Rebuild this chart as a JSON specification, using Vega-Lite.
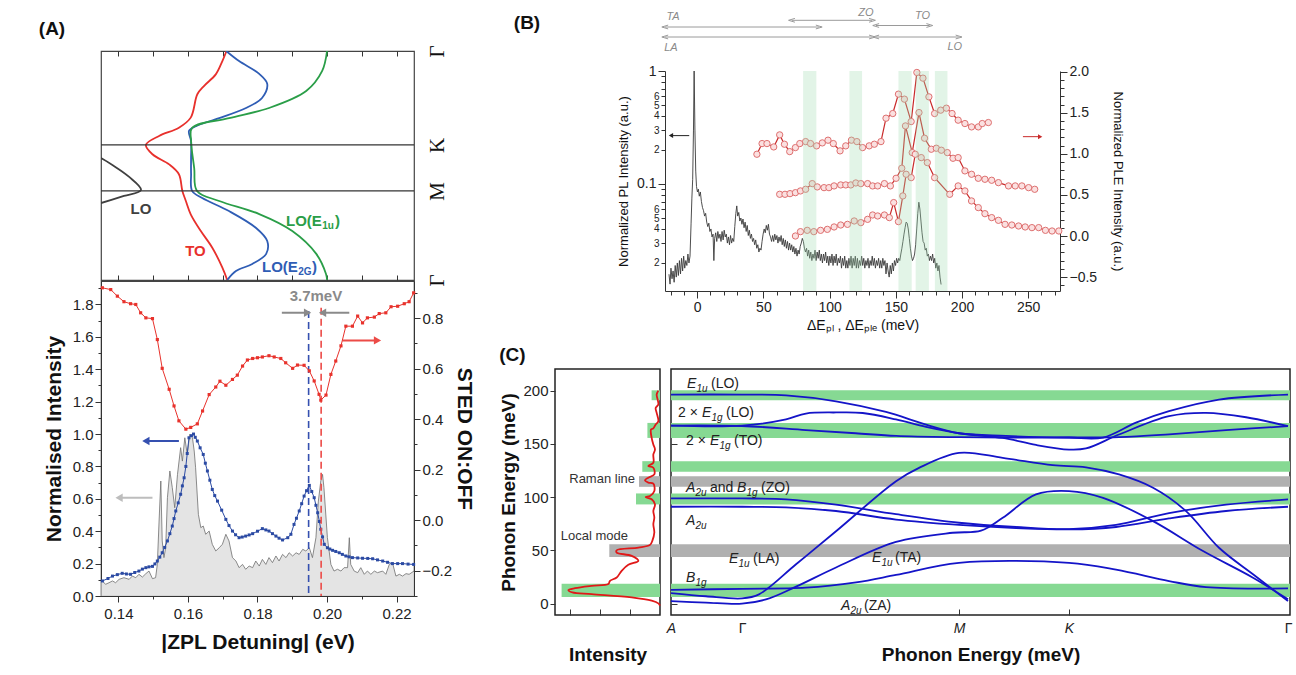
{
"$schema": "https://vega.github.io/schema/vega-lite/v6.json",
"background": "white",
"padding": {"left": 38, "top": 6, "right": 4, "bottom": 4},
"config": {
  "font": "Liberation Sans",
  "view": {"stroke": null},
  "axis": {"grid": false, "labelFont": "Liberation Sans", "titleFont": "Liberation Sans", "domainColor": "#333", "tickColor": "#333", "labelColor": "#222", "titleColor": "#111", "labelFlush": false, "labelOverlap": false},
  "title": {"font": "Liberation Sans", "fontSize": 19, "fontWeight": "bold", "anchor": "start", "color": "#111"}
},
"datasets": {
  "aTop": [
    {"c":"TO","x":0.1711,"y":1.0},{"c":"TO","x":0.1699,"y":0.956},{"c":"TO","x":0.1680,"y":0.898},{"c":"TO","x":0.1646,"y":0.847},{"c":"TO","x":0.1627,"y":0.811},{"c":"TO","x":0.1608,"y":0.709},{"c":"TO","x":0.1574,"y":0.665},{"c":"TO","x":0.1517,"y":0.629},{"c":"TO","x":0.1479,"y":0.590},{"c":"TO","x":0.1498,"y":0.549},{"c":"TO","x":0.1546,"y":0.505},{"c":"TO","x":0.1574,"y":0.462},{"c":"TO","x":0.1584,"y":0.389},{"c":"TO","x":0.1594,"y":0.345},{"c":"TO","x":0.1608,"y":0.287},{"c":"TO","x":0.1637,"y":0.214},{"c":"TO","x":0.1670,"y":0.141},{"c":"TO","x":0.1699,"y":0.054},{"c":"TO","x":0.1713,"y":0.0},
    {"c":"E2G","x":0.1710,"y":1.0},{"c":"E2G","x":0.1747,"y":0.956},{"c":"E2G","x":0.1805,"y":0.900},{"c":"E2G","x":0.1828,"y":0.856},{"c":"E2G","x":0.1813,"y":0.795},{"c":"E2G","x":0.1767,"y":0.751},{"c":"E2G","x":0.1690,"y":0.707},{"c":"E2G","x":0.1623,"y":0.672},{"c":"E2G","x":0.1603,"y":0.651},{"c":"E2G","x":0.1609,"y":0.607},{"c":"E2G","x":0.1609,"y":0.533},{"c":"E2G","x":0.1609,"y":0.463},{"c":"E2G","x":0.1612,"y":0.389},{"c":"E2G","x":0.1641,"y":0.358},{"c":"E2G","x":0.1718,"y":0.301},{"c":"E2G","x":0.1796,"y":0.227},{"c":"E2G","x":0.1828,"y":0.170},{"c":"E2G","x":0.1825,"y":0.114},{"c":"E2G","x":0.1785,"y":0.070},{"c":"E2G","x":0.1738,"y":0.039},{"c":"E2G","x":0.1713,"y":0.0},
    {"c":"E1u","x":0.2000,"y":1.0},{"c":"E1u","x":0.1986,"y":0.913},{"c":"E1u","x":0.1940,"y":0.825},{"c":"E1u","x":0.1833,"y":0.751},{"c":"E1u","x":0.1718,"y":0.707},{"c":"E1u","x":0.1612,"y":0.664},{"c":"E1u","x":0.1609,"y":0.607},{"c":"E1u","x":0.1618,"y":0.489},{"c":"E1u","x":0.1626,"y":0.389},{"c":"E1u","x":0.1690,"y":0.345},{"c":"E1u","x":0.1805,"y":0.288},{"c":"E1u","x":0.1900,"y":0.214},{"c":"E1u","x":0.1969,"y":0.114},{"c":"E1u","x":0.1997,"y":0.026},{"c":"E1u","x":0.2000,"y":0.0},
    {"c":"LOg","x":0.1330,"y":0.545},{"c":"LOg","x":0.1350,"y":0.533},{"c":"LOg","x":0.1387,"y":0.498},{"c":"LOg","x":0.1431,"y":0.450},{"c":"LOg","x":0.1465,"y":0.393},{"c":"LOg","x":0.1416,"y":0.367},{"c":"LOg","x":0.1350,"y":0.336},{"c":"LOg","x":0.1330,"y":0.328}
  ],
  "aTopLab": [
    {"t":"LO","x":0.1435,"y":0.31,"c":"LOg"},{"t":"TO","x":0.1592,"y":0.127,"c":"TO"},
    {"t":"LO(E","x":0.1813,"y":0.057,"c":"E2G"},{"t":")","x":0.1957,"y":0.057,"c":"E2G"},
    {"t":"LO(E","x":0.1882,"y":0.258,"c":"E1u"},{"t":")","x":0.2023,"y":0.258,"c":"E1u"}
  ],
  "aTopSub": [
    {"t":"2G","x":0.1917,"y":0.057,"c":"E2G"},{"t":"1u","x":0.1986,"y":0.258,"c":"E1u"}
  ],
  "aSpec": [
    {"x":0.1350,"y":0.09},{"x":0.1354,"y":0.093},{"x":0.1363,"y":0.072},{"x":0.1373,"y":0.082},{"x":0.1383,"y":0.093},{"x":0.1392,"y":0.082},{"x":0.1402,"y":0.103},{"x":0.1416,"y":0.113},{"x":0.1431,"y":0.103},{"x":0.1440,"y":0.123},{"x":0.1450,"y":0.113},{"x":0.1459,"y":0.134},{"x":0.1469,"y":0.117},{"x":0.1479,"y":0.138},{"x":0.1488,"y":0.154},{"x":0.1498,"y":0.107},{"x":0.1507,"y":0.113},{"x":0.1512,"y":0.195},{"x":0.1517,"y":0.463},{"x":0.1522,"y":0.710},{"x":0.1526,"y":0.340},{"x":0.1531,"y":0.237},{"x":0.1536,"y":0.298},{"x":0.1541,"y":0.607},{"x":0.1548,"y":0.772},{"x":0.1555,"y":0.669},{"x":0.1562,"y":0.545},{"x":0.1570,"y":0.751},{"x":0.1579,"y":0.916},{"x":0.1584,"y":0.833},{"x":0.1591,"y":0.977},{"x":0.1598,"y":0.874},{"x":0.1605,"y":0.998},{"x":0.1613,"y":0.977},{"x":0.1618,"y":0.895},{"x":0.1622,"y":0.792},{"x":0.1630,"y":0.504},{"x":0.1637,"y":0.422},{"x":0.1644,"y":0.432},{"x":0.1651,"y":0.381},{"x":0.1661,"y":0.401},{"x":0.1670,"y":0.319},{"x":0.1680,"y":0.278},{"x":0.1690,"y":0.298},{"x":0.1699,"y":0.319},{"x":0.1709,"y":0.381},{"x":0.1718,"y":0.340},{"x":0.1728,"y":0.237},{"x":0.1738,"y":0.216},{"x":0.1747,"y":0.175},{"x":0.1757,"y":0.195},{"x":0.1766,"y":0.165},{"x":0.1776,"y":0.185},{"x":0.1786,"y":0.175},{"x":0.1795,"y":0.216},{"x":0.1805,"y":0.185},{"x":0.1814,"y":0.226},{"x":0.1824,"y":0.195},{"x":0.1833,"y":0.237},{"x":0.1843,"y":0.206},{"x":0.1853,"y":0.247},{"x":0.1862,"y":0.216},{"x":0.1872,"y":0.257},{"x":0.1882,"y":0.237},{"x":0.1891,"y":0.267},{"x":0.1901,"y":0.247},{"x":0.1911,"y":0.267},{"x":0.1920,"y":0.257},{"x":0.1930,"y":0.288},{"x":0.1939,"y":0.278},{"x":0.1949,"y":0.298},{"x":0.1958,"y":0.237},{"x":0.1968,"y":0.360},{"x":0.1975,"y":0.586},{"x":0.1982,"y":0.710},{"x":0.1987,"y":0.751},{"x":0.1991,"y":0.669},{"x":0.2001,"y":0.360},{"x":0.2011,"y":0.195},{"x":0.2020,"y":0.154},{"x":0.2030,"y":0.165},{"x":0.2040,"y":0.154},{"x":0.2049,"y":0.175},{"x":0.2059,"y":0.175},{"x":0.2064,"y":0.360},{"x":0.2068,"y":0.195},{"x":0.2078,"y":0.154},{"x":0.2088,"y":0.144},{"x":0.2097,"y":0.175},{"x":0.2107,"y":0.134},{"x":0.2116,"y":0.154},{"x":0.2126,"y":0.134},{"x":0.2136,"y":0.154},{"x":0.2145,"y":0.144},{"x":0.2160,"y":0.154},{"x":0.2169,"y":0.134},{"x":0.2179,"y":0.195},{"x":0.2188,"y":0.206},{"x":0.2198,"y":0.123},{"x":0.2208,"y":0.134},{"x":0.2217,"y":0.123},{"x":0.2227,"y":0.138},{"x":0.2236,"y":0.134},{"x":0.2250,"y":0.154}
  ],
  "aBlue": [
    {"x":0.1354,"y":0.093},{"x":0.1370,"y":0.108},{"x":0.1383,"y":0.123},{"x":0.1397,"y":0.132},{"x":0.1411,"y":0.140},{"x":0.1423,"y":0.136},{"x":0.1435,"y":0.134},{"x":0.1447,"y":0.145},{"x":0.1459,"y":0.154},{"x":0.1469,"y":0.166},{"x":0.1479,"y":0.175},{"x":0.1488,"y":0.180},{"x":0.1498,"y":0.183},{"x":0.1505,"y":0.198},{"x":0.1512,"y":0.216},{"x":0.1519,"y":0.240},{"x":0.1526,"y":0.267},{"x":0.1533,"y":0.300},{"x":0.1541,"y":0.340},{"x":0.1548,"y":0.385},{"x":0.1555,"y":0.432},{"x":0.1560,"y":0.478},{"x":0.1565,"y":0.525},{"x":0.1572,"y":0.575},{"x":0.1579,"y":0.628},{"x":0.1584,"y":0.68},{"x":0.1589,"y":0.73},{"x":0.1594,"y":0.80},{"x":0.1598,"y":0.88},{"x":0.1603,"y":0.977},{"x":0.1610,"y":0.99},{"x":0.1616,"y":1.0},{"x":0.1621,"y":0.98},{"x":0.1627,"y":0.957},{"x":0.1635,"y":0.915},{"x":0.1644,"y":0.874},{"x":0.1650,"y":0.82},{"x":0.1656,"y":0.772},{"x":0.1663,"y":0.715},{"x":0.1670,"y":0.658},{"x":0.1677,"y":0.62},{"x":0.1685,"y":0.586},{"x":0.1697,"y":0.53},{"x":0.1709,"y":0.473},{"x":0.1718,"y":0.435},{"x":0.1728,"y":0.401},{"x":0.1737,"y":0.378},{"x":0.1747,"y":0.360},{"x":0.1756,"y":0.364},{"x":0.1766,"y":0.370},{"x":0.1776,"y":0.377},{"x":0.1786,"y":0.385},{"x":0.1800,"y":0.40},{"x":0.1814,"y":0.416},{"x":0.1824,"y":0.408},{"x":0.1833,"y":0.401},{"x":0.1843,"y":0.385},{"x":0.1853,"y":0.370},{"x":0.1862,"y":0.357},{"x":0.1872,"y":0.346},{"x":0.1887,"y":0.36},{"x":0.1896,"y":0.381},{"x":0.1905,"y":0.442},{"x":0.1912,"y":0.48},{"x":0.1920,"y":0.525},{"x":0.1927,"y":0.57},{"x":0.1934,"y":0.617},{"x":0.1941,"y":0.65},{"x":0.1949,"y":0.683},{"x":0.1956,"y":0.645},{"x":0.1963,"y":0.607},{"x":0.1968,"y":0.56},{"x":0.1973,"y":0.514},{"x":0.1978,"y":0.46},{"x":0.1982,"y":0.412},{"x":0.1987,"y":0.365},{"x":0.1992,"y":0.319},{"x":0.2001,"y":0.298},{"x":0.2008,"y":0.29},{"x":0.2016,"y":0.282},{"x":0.2025,"y":0.275},{"x":0.2035,"y":0.267},{"x":0.2044,"y":0.257},{"x":0.2054,"y":0.247},{"x":0.2063,"y":0.242},{"x":0.2073,"y":0.237},{"x":0.2088,"y":0.235},{"x":0.2102,"y":0.233},{"x":0.2117,"y":0.232},{"x":0.2131,"y":0.230},{"x":0.2145,"y":0.223},{"x":0.2160,"y":0.216},{"x":0.2174,"y":0.208},{"x":0.2188,"y":0.200},{"x":0.2203,"y":0.200},{"x":0.2217,"y":0.200},{"x":0.2233,"y":0.197},{"x":0.2249,"y":0.195}
  ],
  "aRed": [
    {"x":0.1354,"y":0.920},{"x":0.1378,"y":0.913},{"x":0.1397,"y":0.887},{"x":0.1416,"y":0.865},{"x":0.1435,"y":0.857},{"x":0.1450,"y":0.854},{"x":0.1464,"y":0.821},{"x":0.1479,"y":0.801},{"x":0.1498,"y":0.798},{"x":0.1512,"y":0.715},{"x":0.1526,"y":0.601},{"x":0.1546,"y":0.518},{"x":0.1560,"y":0.452},{"x":0.1574,"y":0.393},{"x":0.1594,"y":0.360},{"x":0.1608,"y":0.367},{"x":0.1627,"y":0.381},{"x":0.1642,"y":0.432},{"x":0.1661,"y":0.497},{"x":0.1680,"y":0.527},{"x":0.1692,"y":0.550},{"x":0.1709,"y":0.534},{"x":0.1728,"y":0.557},{"x":0.1742,"y":0.574},{"x":0.1757,"y":0.610},{"x":0.1771,"y":0.634},{"x":0.1786,"y":0.640},{"x":0.1800,"y":0.643},{"x":0.1814,"y":0.646},{"x":0.1833,"y":0.651},{"x":0.1848,"y":0.646},{"x":0.1867,"y":0.640},{"x":0.1881,"y":0.623},{"x":0.1901,"y":0.601},{"x":0.1915,"y":0.614},{"x":0.1934,"y":0.613},{"x":0.1949,"y":0.591},{"x":0.1963,"y":0.551},{"x":0.1977,"y":0.498},{"x":0.1982,"y":0.475},{"x":0.1997,"y":0.495},{"x":0.2011,"y":0.577},{"x":0.2025,"y":0.630},{"x":0.2040,"y":0.690},{"x":0.2054,"y":0.768},{"x":0.2073,"y":0.768},{"x":0.2088,"y":0.808},{"x":0.2102,"y":0.781},{"x":0.2116,"y":0.801},{"x":0.2136,"y":0.804},{"x":0.2150,"y":0.818},{"x":0.2169,"y":0.821},{"x":0.2184,"y":0.845},{"x":0.2203,"y":0.847},{"x":0.2222,"y":0.857},{"x":0.2236,"y":0.865},{"x":0.2249,"y":0.900}
  ],
  "aDash": [{"x":0.1947,"y":1.76,"c":"PLE"},{"x":0.1983,"y":1.78,"c":"STED"}],
  "aArr": [
    {"x1":0.1870,"x2":0.1944,"y":1.749,"c":"split","d":"r"},
    {"x1":0.2064,"x2":0.1987,"y":1.749,"c":"split","d":"l"},
    {"x1":0.1574,"x2":0.1479,"y":0.957,"c":"PLE","d":"l"},
    {"x1":0.1498,"x2":0.1402,"y":0.607,"c":"PL","d":"l"},
    {"x1":0.2044,"x2":0.2145,"y":1.578,"c":"STED","d":"r"}
  ],
  "bPL": [
    {"x":-21.3,"y":0.0159},{"x":-20.5,"y":0.013},{"x":-19.8,"y":0.018},{"x":-19,"y":0.0145},{"x":-18.2,"y":0.017},{"x":-17.4,"y":0.0135},{"x":-16.6,"y":0.019},{"x":-15.8,"y":0.015},{"x":-15,"y":0.02},{"x":-14.2,"y":0.0155},{"x":-13.4,"y":0.021},{"x":-12.6,"y":0.016},{"x":-11.8,"y":0.022},{"x":-11,"y":0.017},{"x":-10.2,"y":0.023},{"x":-9.4,"y":0.018},{"x":-8.6,"y":0.021},{"x":-7.8,"y":0.019},{"x":-7,"y":0.024},{"x":-6.2,"y":0.02},{"x":-5.4,"y":0.023},{"x":-4.6,"y":0.045},{"x":-4.0,"y":0.075},{"x":-3.4,"y":0.11},{"x":-2.8,"y":0.3},{"x":-2.3,"y":1.0},{"x":-1.7,"y":0.3},{"x":-1.1,"y":0.13},{"x":-0.5,"y":0.095},{"x":0.2,"y":0.085},{"x":0.9,"y":0.09},{"x":1.6,"y":0.078},{"x":2.4,"y":0.085},{"x":3.2,"y":0.07},{"x":4.0,"y":0.062},{"x":4.8,"y":0.058},{"x":5.6,"y":0.052},{"x":6.4,"y":0.055},{"x":7.2,"y":0.046},{"x":8.0,"y":0.042},{"x":8.8,"y":0.045},{"x":9.6,"y":0.038},{"x":10.4,"y":0.04},{"x":11.2,"y":0.034},{"x":12,"y":0.036},{"x":12.6,"y":0.021},{"x":13.2,"y":0.033},{"x":14,"y":0.037},{"x":14.8,"y":0.031},{"x":15.6,"y":0.038},{"x":16.4,"y":0.033},{"x":17.2,"y":0.036},{"x":18,"y":0.031},{"x":18.8,"y":0.038},{"x":19.6,"y":0.032},{"x":20.4,"y":0.039},{"x":21.2,"y":0.034},{"x":22,"y":0.036},{"x":22.8,"y":0.030},{"x":23.6,"y":0.034},{"x":24.4,"y":0.029},{"x":25.2,"y":0.035},{"x":26,"y":0.03},{"x":26.8,"y":0.033},{"x":27.6,"y":0.031},{"x":28.4,"y":0.042},{"x":29.2,"y":0.055},{"x":29.9,"y":0.064},{"x":30.6,"y":0.052},{"x":31.4,"y":0.056},{"x":32.2,"y":0.047},{"x":33,"y":0.05},{"x":33.8,"y":0.044},{"x":34.6,"y":0.049},{"x":35.4,"y":0.041},{"x":36.2,"y":0.046},{"x":37,"y":0.038},{"x":37.8,"y":0.043},{"x":38.6,"y":0.035},{"x":39.4,"y":0.039},{"x":40.2,"y":0.033},{"x":41,"y":0.036},{"x":41.8,"y":0.031},{"x":42.6,"y":0.033},{"x":43.4,"y":0.029},{"x":44.2,"y":0.032},{"x":45,"y":0.027},{"x":45.8,"y":0.029},{"x":46.6,"y":0.025},{"x":47.4,"y":0.027},{"x":48.2,"y":0.026},{"x":49,"y":0.031},{"x":49.8,"y":0.036},{"x":50.6,"y":0.04},{"x":51.4,"y":0.037},{"x":52.2,"y":0.043},{"x":53,"y":0.039},{"x":53.8,"y":0.044},{"x":54.6,"y":0.036},{"x":55.4,"y":0.034},{"x":56.2,"y":0.031},{"x":57,"y":0.035},{"x":57.8,"y":0.031},{"x":58.6,"y":0.036},{"x":59.4,"y":0.032},{"x":60.2,"y":0.035},{"x":61,"y":0.03},{"x":61.8,"y":0.034},{"x":62.6,"y":0.031},{"x":63.4,"y":0.035},{"x":64.2,"y":0.029},{"x":65,"y":0.033},{"x":65.8,"y":0.028},{"x":66.6,"y":0.032},{"x":67.4,"y":0.027},{"x":68.2,"y":0.031},{"x":69,"y":0.026},{"x":69.8,"y":0.03},{"x":70.6,"y":0.026},{"x":71.4,"y":0.029},{"x":72.2,"y":0.025},{"x":73,"y":0.028},{"x":73.8,"y":0.024},{"x":74.6,"y":0.027},{"x":75.4,"y":0.023},{"x":76.2,"y":0.026},{"x":77,"y":0.024},{"x":77.8,"y":0.028},{"x":78.6,"y":0.03},{"x":79.4,"y":0.033},{"x":80.2,"y":0.031},{"x":81,"y":0.027},{"x":81.8,"y":0.025},{"x":82.6,"y":0.027},{"x":83.4,"y":0.023},{"x":84.2,"y":0.026},{"x":85,"y":0.022},{"x":85.8,"y":0.025},{"x":86.6,"y":0.021},{"x":87.4,"y":0.024},{"x":88.2,"y":0.022},{"x":89,"y":0.026},{"x":89.8,"y":0.021},{"x":90.6,"y":0.025},{"x":91.4,"y":0.022},{"x":92.2,"y":0.026},{"x":93,"y":0.021},{"x":93.8,"y":0.024},{"x":94.6,"y":0.02},{"x":95.4,"y":0.024},{"x":96.2,"y":0.021},{"x":97,"y":0.025},{"x":97.8,"y":0.02},{"x":98.6,"y":0.023},{"x":99.4,"y":0.019},{"x":100.2,"y":0.023},{"x":101,"y":0.02},{"x":101.8,"y":0.024},{"x":102.6,"y":0.019},{"x":103.4,"y":0.023},{"x":104.2,"y":0.02},{"x":105,"y":0.024},{"x":105.8,"y":0.019},{"x":106.6,"y":0.022},{"x":107.4,"y":0.02},{"x":108.2,"y":0.023},{"x":109,"y":0.018},{"x":109.8,"y":0.022},{"x":110.6,"y":0.019},{"x":111.4,"y":0.023},{"x":112.2,"y":0.018},{"x":113,"y":0.021},{"x":113.8,"y":0.018},{"x":114.6,"y":0.022},{"x":115.4,"y":0.019},{"x":116.2,"y":0.023},{"x":117,"y":0.018},{"x":117.8,"y":0.022},{"x":118.6,"y":0.019},{"x":119.4,"y":0.023},{"x":120.2,"y":0.018},{"x":121,"y":0.022},{"x":121.8,"y":0.018},{"x":122.6,"y":0.021},{"x":123.4,"y":0.019},{"x":124.2,"y":0.023},{"x":125,"y":0.019},{"x":125.8,"y":0.022},{"x":126.6,"y":0.018},{"x":127.4,"y":0.021},{"x":128.2,"y":0.019},{"x":129,"y":0.022},{"x":129.8,"y":0.018},{"x":130.6,"y":0.021},{"x":131.4,"y":0.019},{"x":132.2,"y":0.023},{"x":133,"y":0.019},{"x":133.8,"y":0.022},{"x":134.6,"y":0.018},{"x":135.4,"y":0.021},{"x":136.2,"y":0.019},{"x":137,"y":0.022},{"x":137.8,"y":0.018},{"x":138.6,"y":0.021},{"x":139.4,"y":0.018},{"x":140.2,"y":0.022},{"x":141,"y":0.019},{"x":141.8,"y":0.021},{"x":142.6,"y":0.016},{"x":143.4,"y":0.02},{"x":144.2,"y":0.017},{"x":145,"y":0.015},{"x":145.8,"y":0.019},{"x":146.6,"y":0.016},{"x":147.4,"y":0.02},{"x":148.2,"y":0.017},{"x":149,"y":0.021},{"x":149.8,"y":0.019},{"x":150.6,"y":0.022},{"x":151.4,"y":0.02},{"x":152.2,"y":0.022},{"x":153,"y":0.021},{"x":153.8,"y":0.024},{"x":154.6,"y":0.027},{"x":155.4,"y":0.031},{"x":156.2,"y":0.036},{"x":157,"y":0.041},{"x":157.8,"y":0.046},{"x":158.6,"y":0.045},{"x":159.4,"y":0.04},{"x":160.2,"y":0.033},{"x":161,"y":0.027},{"x":161.8,"y":0.023},{"x":162.6,"y":0.021},{"x":163.4,"y":0.022},{"x":164.2,"y":0.024},{"x":165,"y":0.029},{"x":165.8,"y":0.04},{"x":166.6,"y":0.055},{"x":167.4,"y":0.069},{"x":168.2,"y":0.06},{"x":169,"y":0.047},{"x":169.8,"y":0.037},{"x":170.6,"y":0.031},{"x":171.4,"y":0.03},{"x":172.2,"y":0.026},{"x":173,"y":0.027},{"x":173.8,"y":0.023},{"x":174.6,"y":0.024},{"x":175.4,"y":0.021},{"x":176.2,"y":0.023},{"x":177,"y":0.021},{"x":177.8,"y":0.024},{"x":178.6,"y":0.02},{"x":179.4,"y":0.022},{"x":180.2,"y":0.018},{"x":181,"y":0.02},{"x":181.8,"y":0.017},{"x":182.6,"y":0.019},{"x":183.4,"y":0.015},{"x":184.2,"y":0.0129}
  ],
  "bPLE": [
    {"s":"a","x":45.1,"y":0.996},{"s":"a","x":49.0,"y":1.126},{"s":"a","x":52.7,"y":1.126},{"s":"a","x":57.8,"y":1.085},{"s":"a","x":62.3,"y":1.232},{"s":"a","x":65.9,"y":1.118},{"s":"a","x":69.9,"y":1.028},{"s":"a","x":74.2,"y":1.077},{"s":"a","x":77.5,"y":1.126},{"s":"a","x":81.9,"y":1.15},{"s":"a","x":85.6,"y":1.126},{"s":"a","x":90.2,"y":1.098},{"s":"a","x":94.5,"y":1.134},{"s":"a","x":98.8,"y":1.167},{"s":"a","x":102.8,"y":1.126},{"s":"a","x":107.9,"y":1.037},{"s":"a","x":112.2,"y":1.098},{"s":"a","x":116.5,"y":1.167},{"s":"a","x":120.6,"y":1.15},{"s":"a","x":124.9,"y":1.077},{"s":"a","x":129.9,"y":1.098},{"s":"a","x":133.8,"y":1.118},{"s":"a","x":138.8,"y":1.15},{"s":"a","x":142.6,"y":1.435},{"s":"a","x":147.7,"y":1.492},{"s":"a","x":152.0,"y":1.728},{"s":"a","x":156.5,"y":1.667},{"s":"a","x":161.6,"y":1.394},{"s":"a","x":165.9,"y":1.992},{"s":"a","x":170.5,"y":1.923},{"s":"a","x":175.0,"y":1.695},{"s":"a","x":179.3,"y":1.492},{"s":"a","x":183.9,"y":1.533},{"s":"a","x":188.2,"y":1.557},{"s":"a","x":192.5,"y":1.492},{"s":"a","x":197.1,"y":1.411},{"s":"a","x":202.2,"y":1.37},{"s":"a","x":207.2,"y":1.329},{"s":"a","x":212.3,"y":1.329},{"s":"a","x":215.3,"y":1.37},{"s":"a","x":219.9,"y":1.382},
    {"s":"b","x":62.3,"y":0.508},{"s":"b","x":66.3,"y":0.508},{"s":"b","x":70.1,"y":0.516},{"s":"b","x":74.2,"y":0.528},{"s":"b","x":78.0,"y":0.549},{"s":"b","x":81.9,"y":0.569},{"s":"b","x":86.9,"y":0.638},{"s":"b","x":90.7,"y":0.598},{"s":"b","x":95.8,"y":0.589},{"s":"b","x":99.5,"y":0.589},{"s":"b","x":103.4,"y":0.61},{"s":"b","x":108.4,"y":0.622},{"s":"b","x":112.2,"y":0.622},{"s":"b","x":116.0,"y":0.622},{"s":"b","x":119.8,"y":0.646},{"s":"b","x":123.6,"y":0.638},{"s":"b","x":128.7,"y":0.638},{"s":"b","x":132.5,"y":0.61},{"s":"b","x":136.3,"y":0.61},{"s":"b","x":141.4,"y":0.638},{"s":"b","x":145.9,"y":0.61},{"s":"b","x":150.2,"y":0.703},{"s":"b","x":154.5,"y":0.825},{"s":"b","x":157.3,"y":1.341},{"s":"b","x":162.4,"y":1.016},{"s":"b","x":167.5,"y":1.504},{"s":"b","x":171.7,"y":1.191},{"s":"b","x":176.8,"y":1.057},{"s":"b","x":180.6,"y":1.069},{"s":"b","x":184.4,"y":1.045},{"s":"b","x":188.9,"y":1.016},{"s":"b","x":193.2,"y":0.947},{"s":"b","x":197.1,"y":0.955},{"s":"b","x":202.2,"y":0.793},{"s":"b","x":207.2,"y":0.752},{"s":"b","x":212.3,"y":0.703},{"s":"b","x":217.3,"y":0.691},{"s":"b","x":222.4,"y":0.679},{"s":"b","x":227.5,"y":0.65},{"s":"b","x":235.1,"y":0.61},{"s":"b","x":240.2,"y":0.61},{"s":"b","x":245.2,"y":0.61},{"s":"b","x":250.3,"y":0.589},{"s":"b","x":254.9,"y":0.569},
    {"s":"c","x":74.2,"y":0.0},{"s":"c","x":78.0,"y":0.053},{"s":"c","x":83.1,"y":0.069},{"s":"c","x":88.1,"y":0.053},{"s":"c","x":93.2,"y":0.069},{"s":"c","x":98.3,"y":0.081},{"s":"c","x":103.4,"y":0.11},{"s":"c","x":108.4,"y":0.134},{"s":"c","x":113.5,"y":0.142},{"s":"c","x":118.6,"y":0.183},{"s":"c","x":123.6,"y":0.163},{"s":"c","x":128.7,"y":0.203},{"s":"c","x":132.5,"y":0.256},{"s":"c","x":136.3,"y":0.244},{"s":"c","x":141.4,"y":0.256},{"s":"c","x":145.1,"y":0.224},{"s":"c","x":148.4,"y":0.407},{"s":"c","x":152.0,"y":0.175},{"s":"c","x":155.3,"y":0.488},{"s":"c","x":157.8,"y":0.752},{"s":"c","x":161.6,"y":0.711},{"s":"c","x":164.7,"y":0.996},{"s":"c","x":169.2,"y":0.955},{"s":"c","x":173.8,"y":0.894},{"s":"c","x":179.3,"y":0.711},{"s":"c","x":190.7,"y":0.508},{"s":"c","x":197.1,"y":0.61},{"s":"c","x":202.2,"y":0.549},{"s":"c","x":207.2,"y":0.427},{"s":"c","x":212.3,"y":0.346},{"s":"c","x":217.3,"y":0.272},{"s":"c","x":222.4,"y":0.224},{"s":"c","x":227.5,"y":0.191},{"s":"c","x":232.5,"y":0.142},{"s":"c","x":237.6,"y":0.134},{"s":"c","x":242.7,"y":0.122},{"s":"c","x":247.7,"y":0.11},{"s":"c","x":252.8,"y":0.102},{"s":"c","x":257.9,"y":0.102},{"s":"c","x":263.0,"y":0.069},{"s":"c","x":268.0,"y":0.061},{"s":"c","x":273.1,"y":0.061}
  ],
  "bBands": [{"x1":80,"x2":90},{"x1":115,"x2":124.5},{"x1":152,"x2":162},{"x1":165,"x2":175},{"x1":179.5,"x2":189}],
  "bRanges": [
    {"m":"TA","x1":-24.3,"x2":92,"row":26},{"m":"ZO","x1":71.4,"x2":132.2,"row":19.3},{"m":"TO","x1":135,"x2":175.5,"row":24.5},{"m":"LA","x1":-24.3,"x2":132.2,"row":36},{"m":"LO","x1":135,"x2":197.6,"row":36}
  ],
  "bRangeLab": [
    {"t":"TA","x":-18.2,"row":16},{"t":"ZO","x":127.4,"row":11.7},{"t":"TO","x":170.2,"row":15},{"t":"LA","x":-19.8,"row":47},{"t":"LO","x":194.5,"row":46}
  ],
  "cBands": [
    {"lo":191,"hi":200.3,"s":0.28,"kind":"IR"},{"lo":155.6,"hi":169.7,"s":0.42,"kind":"IR"},{"lo":123.8,"hi":133.8,"s":0.59,"kind":"IR"},{"lo":109.7,"hi":119.7,"s":0.70,"kind":"other"},{"lo":93.2,"hi":103.5,"s":0.80,"kind":"IR"},{"lo":43.8,"hi":55.7,"s":1.69,"kind":"other"},{"lo":6.3,"hi":18.8,"s":3.28,"kind":"IR"}
  ],
  "cInt": [
    {"I":0.056,"E":200.0},{"I":0.111,"E":196.3},{"I":0.078,"E":191.6},{"I":0.056,"E":186.9},{"I":0.144,"E":183.8},{"I":0.111,"E":179.1},{"I":0.056,"E":171.3},{"I":0.144,"E":168.2},{"I":0.222,"E":164.5},{"I":0.300,"E":163.5},{"I":0.278,"E":155.7},{"I":0.222,"E":149.5},{"I":0.167,"E":144.8},{"I":0.222,"E":140.1},{"I":0.222,"E":132.3},{"I":0.389,"E":129.2},{"I":0.222,"E":127.6},{"I":0.189,"E":121.4},{"I":0.389,"E":118.3},{"I":0.5,"E":115.8},{"I":0.389,"E":113.6},{"I":0.222,"E":112.7},{"I":0.189,"E":105.8},{"I":0.333,"E":101.1},{"I":0.478,"E":100.2},{"I":0.278,"E":98.0},{"I":0.167,"E":93.3},{"I":0.222,"E":87.1},{"I":0.189,"E":80.8},{"I":0.222,"E":74.6},{"I":0.189,"E":66.8},{"I":0.256,"E":59.0},{"I":0.333,"E":55.2},{"I":0.722,"E":52.7},{"I":1.444,"E":50.2},{"I":1.444,"E":48.0},{"I":0.944,"E":44.9},{"I":0.722,"E":40.2},{"I":1.056,"E":36.5},{"I":1.278,"E":30.9},{"I":1.444,"E":24.6},{"I":1.667,"E":21.5},{"I":1.722,"E":18.4},{"I":2.278,"E":16.8},{"I":2.833,"E":14.6},{"I":3.056,"E":12.8},{"I":2.922,"E":10.6},{"I":2.278,"E":9.0},{"I":0.944,"E":5.9},{"I":0.278,"E":2.8},{"I":0.056,"E":0.3},{"I":0.0,"E":-1.9}
  ],
  "cDisp": [
    {"b":"1","k":0,"E":196.3},{"b":"1","k":1.0,"E":196.3},{"b":"1","k":1.62,"E":195.5},{"b":"1","k":2.324,"E":190},{"b":"1","k":3.028,"E":180},{"b":"1","k":3.592,"E":168},{"b":"1","k":4.056,"E":160},{"b":"1","k":4.718,"E":157.5},{"b":"1","k":5.606,"E":156},{"b":"1","k":6.085,"E":156},{"b":"1","k":6.549,"E":170},{"b":"1","k":7.014,"E":180.7},{"b":"1","k":7.718,"E":191.6},{"b":"1","k":8.69,"E":196.3},
    {"b":"2","k":0,"E":167.2},{"b":"2","k":1.0,"E":167.2},{"b":"2","k":1.62,"E":173},{"b":"2","k":1.9,"E":178.5},{"b":"2","k":2.324,"E":179.5},{"b":"2","k":2.7,"E":179},{"b":"2","k":3.169,"E":173},{"b":"2","k":3.592,"E":166},{"b":"2","k":4.056,"E":160},{"b":"2","k":4.672,"E":155.6},{"b":"2","k":5.141,"E":149},{"b":"2","k":5.606,"E":144.7},{"b":"2","k":5.845,"E":145.7},{"b":"2","k":6.31,"E":158.8},{"b":"2","k":7.014,"E":176},{"b":"2","k":7.535,"E":179.1},{"b":"2","k":8.099,"E":175},{"b":"2","k":8.69,"E":166.6},
    {"b":"3","k":0,"E":167.2},{"b":"3","k":1.0,"E":166.8},{"b":"3","k":1.9,"E":163},{"b":"3","k":2.6,"E":160},{"b":"3","k":3.17,"E":157.5},{"b":"3","k":4.056,"E":156.3},{"b":"3","k":4.718,"E":156},{"b":"3","k":5.606,"E":156},{"b":"3","k":6.31,"E":156.3},{"b":"3","k":7.014,"E":159},{"b":"3","k":7.817,"E":163},{"b":"3","k":8.69,"E":166.6},
    {"b":"4","k":0,"E":98.8},{"b":"4","k":1.0,"E":98.8},{"b":"4","k":1.62,"E":98},{"b":"4","k":2.324,"E":93},{"b":"4","k":3.169,"E":84},{"b":"4","k":4.056,"E":76},{"b":"4","k":4.859,"E":72},{"b":"4","k":5.606,"E":70},{"b":"4","k":6.268,"E":74},{"b":"4","k":7.014,"E":85},{"b":"4","k":7.817,"E":93},{"b":"4","k":8.69,"E":97.9},
    {"b":"5","k":0,"E":91},{"b":"5","k":1.0,"E":91},{"b":"5","k":1.62,"E":90.5},{"b":"5","k":2.324,"E":87},{"b":"5","k":3.169,"E":79},{"b":"5","k":4.056,"E":74},{"b":"5","k":4.859,"E":71},{"b":"5","k":5.606,"E":69.7},{"b":"5","k":6.268,"E":72},{"b":"5","k":7.014,"E":80},{"b":"5","k":7.817,"E":87},{"b":"5","k":8.69,"E":91},
    {"b":"6","k":0,"E":10},{"b":"6","k":0.493,"E":7},{"b":"6","k":1.0,"E":5},{"b":"6","k":1.239,"E":8.8},{"b":"6","k":1.761,"E":37},{"b":"6","k":2.324,"E":68},{"b":"6","k":3.169,"E":115},{"b":"6","k":3.493,"E":127.5},{"b":"6","k":4.056,"E":141.6},{"b":"6","k":4.672,"E":136.9},{"b":"6","k":5.376,"E":130},{"b":"6","k":5.845,"E":128},{"b":"6","k":6.31,"E":121.3},{"b":"6","k":6.789,"E":108.8},{"b":"6","k":7.254,"E":86.9},{"b":"6","k":7.718,"E":52.5},{"b":"6","k":8.197,"E":27.6},{"b":"6","k":8.69,"E":2.5},
    {"b":"7","k":0,"E":13},{"b":"7","k":1.0,"E":14},{"b":"7","k":1.9,"E":15},{"b":"7","k":2.606,"E":20},{"b":"7","k":3.169,"E":27},{"b":"7","k":4.056,"E":38.4},{"b":"7","k":5.606,"E":38.4},{"b":"7","k":6.268,"E":32},{"b":"7","k":7.014,"E":21.3},{"b":"7","k":7.535,"E":15.5},{"b":"7","k":8.69,"E":14.4},
    {"b":"8","k":0,"E":2.5},{"b":"8","k":0.493,"E":1},{"b":"8","k":1.0,"E":0},{"b":"8","k":1.338,"E":4},{"b":"8","k":1.761,"E":16},{"b":"8","k":2.324,"E":34},{"b":"8","k":3.169,"E":58},{"b":"8","k":3.968,"E":66.6},{"b":"8","k":4.366,"E":68.5},{"b":"8","k":4.672,"E":80.6},{"b":"8","k":5.141,"E":102.6},{"b":"8","k":5.606,"E":105.7},{"b":"8","k":6.085,"E":99.4},{"b":"8","k":6.789,"E":77.5},{"b":"8","k":7.493,"E":49.4},{"b":"8","k":8.197,"E":24.4},{"b":"8","k":8.69,"E":4.1}
  ],
  "cSym": [
    {"t":"E","k":0.225,"E":206.2},{"t":"E","k":0.437,"E":179.1},{"t":"E","k":0.549,"E":152.5},{"t":"A","k":0.211,"E":108.8},{"t":"B","k":0.930,"E":108.8},{"t":"A","k":0.211,"E":77.5},{"t":"E","k":0.817,"E":41.6},{"t":"E","k":2.831,"E":43.1},{"t":"B","k":0.211,"E":24.4},{"t":"A","k":2.394,"E":-2.2}
  ],
  "cSub": [
    {"t":"1u","k":0.359,"E":206.2},{"t":"1g","k":0.570,"E":179.1},{"t":"1g","k":0.683,"E":152.5},{"t":"2u","k":0.345,"E":108.8},{"t":"1g","k":1.063,"E":108.8},{"t":"2u","k":0.345,"E":77.5},{"t":"1u","k":0.951,"E":41.6},{"t":"1u","k":2.965,"E":43.1},{"t":"1g","k":0.345,"E":24.4},{"t":"2u","k":2.528,"E":-2.2}
  ],
  "cPlain": [
    {"t":"(LO)","k":0.563,"E":206.2},{"t":"2 ×","k":0.099,"E":179.1},{"t":"(LO)","k":0.775,"E":179.1},{"t":"2 ×","k":0.211,"E":152.5},{"t":"(TO)","k":0.887,"E":152.5},{"t":"and","k":0.549,"E":108.8},{"t":"(ZO)","k":1.268,"E":108.8},{"t":"(LA)","k":1.155,"E":41.6},{"t":"(TA)","k":3.155,"E":43.1},{"t":"(ZA)","k":2.718,"E":-2.2}
  ],
  "cNotes": [{"t":"Raman line","I":0.833,"E":116.6},{"t":"Local mode","I":1.067,"E":63.5}]
},
"resolve": {"scale": {"color": "independent", "shape": "independent"}},
"concat": [
  {
    "bounds": "flush",
    "spacing": 1,
    "resolve": {"scale": {"color": "independent", "shape": "independent"}},
    "vconcat": [
      {
        "width": 20, "height": 43,
        "data": {"values": [{}]},
        "mark": {"type": "text", "text": "(A)", "fontSize": 19, "fontWeight": "bold", "color": "#111", "align": "center", "baseline": "middle", "dx": -59}
      },
      {
        "width": 313, "height": 229,
        "view": {"stroke": "#444", "strokeWidth": 1.2},
        "resolve": {"axis": {"x": "independent"}},
        "layer": [
          {
            "data": {"name": "aTop"},
            "mark": {"type": "line", "strokeWidth": 1.8, "interpolate": "catmull-rom", "clip": true},
            "encoding": {
              "x": {"field": "x", "type": "quantitative", "scale": {"domain": [0.135, 0.225], "nice": false, "zero": false},
                    "axis": {"orient": "top", "values": [0.14,0.15,0.16,0.17,0.18,0.19,0.2,0.21,0.22], "tickCount": 100, "labels": false, "tickSize": -5, "domain": false, "title": null}},
              "y": {"field": "y", "type": "quantitative", "scale": {"domain": [0, 1], "nice": false, "zero": false},
                    "axis": {"orient": "right", "values": [0, 0.389, 0.59, 1], "labelExpr": "datum.value == 0 || datum.value == 1 ? 'Γ' : (datum.value < 0.5 ? 'M' : 'K')", "labelAngle": -90, "labelFont": "Liberation Serif", "labelFontSize": 21, "labelColor": "#111", "tickSize": 0, "domain": false, "labelPadding": 12, "title": null}},
              "color": {"field": "c", "type": "nominal", "scale": {"domain": ["TO","E2G","E1u","LOg"], "range": ["#e8302c","#2f5db5","#2a9e48","#404040"]}, "legend": null},
              "order": {"field": "y", "type": "quantitative"}
            }
          },
          {
            "data": {"values": [{"y": 0.389}, {"y": 0.59}]},
            "mark": {"type": "rule", "color": "#333", "strokeWidth": 1.2},
            "encoding": {"y": {"field": "y", "type": "quantitative"}}
          },
          {
            "data": {"name": "aTopLab"},
            "mark": {"type": "text", "fontSize": 15, "fontWeight": "bold", "align": "left", "baseline": "middle"},
            "encoding": {
              "x": {"field": "x", "type": "quantitative", "axis": {"orient": "bottom", "values": [0.14,0.15,0.16,0.17,0.18,0.19,0.2,0.21,0.22], "tickCount": 100, "labels": false, "tickSize": -5, "domain": false, "title": null}},
              "y": {"field": "y", "type": "quantitative"},
              "color": {"field": "c", "type": "nominal"},
              "text": {"field": "t"}
            }
          },
          {
            "data": {"name": "aTopSub"},
            "mark": {"type": "text", "fontSize": 10, "fontWeight": "bold", "align": "left", "baseline": "middle", "dy": 5},
            "encoding": {
              "x": {"field": "x", "type": "quantitative", "axis": null},
              "y": {"field": "y", "type": "quantitative"},
              "color": {"field": "c", "type": "nominal"},
              "text": {"field": "t"}
            }
          }
        ]
      },
      {
        "width": 313, "height": 315,
        "view": {"stroke": "#444", "strokeWidth": 1.2},
        "resolve": {"scale": {"y": "independent"}},
        "layer": [
          {
            "layer": [
              {
                "data": {"name": "aSpec"},
                "mark": {"type": "area", "color": "#d9d9d9", "line": {"color": "#6e6e6e", "strokeWidth": 0.8}, "clip": true},
                "encoding": {
                  "x": {"field": "x", "type": "quantitative", "scale": {"domain": [0.135, 0.225], "nice": false, "zero": false},
                        "axis": {"values": [0.14,0.15,0.16,0.17,0.18,0.19,0.2,0.21,0.22], "tickCount": 100, "labelExpr": "round(datum.value*100) % 2 == 0 ? format(datum.value, '.2f') : ''", "tickSize": {"condition": {"test": "round(datum.value*100) % 2 == 0", "value": 6}, "value": 3}, "labelFontSize": 15, "title": "|ZPL Detuning|  (eV)", "titleFontSize": 21, "titleFontWeight": "bold", "titlePadding": 10, "labelPadding": 4}},
                  "y": {"field": "y", "type": "quantitative", "scale": {"domain": [0, 1.945], "nice": false, "zero": false},
                        "axis": {"values": [0,0.1,0.2,0.3,0.4,0.5,0.6,0.7,0.8,0.9,1.0,1.1,1.2,1.3,1.4,1.5,1.6,1.7,1.8,1.9], "tickCount": 100, "labelExpr": "round(datum.value*10) % 2 == 0 ? format(datum.value, '.1f') : ''", "tickSize": {"condition": {"test": "round(datum.value*10) % 2 == 0", "value": 6}, "value": 3}, "labelFontSize": 15, "title": "Normalised Intensity", "titleFontSize": 21, "titleFontWeight": "bold", "titlePadding": 8}}
                }
              },
              {
                "data": {"name": "aBlue"},
                "mark": {"type": "line", "color": "#2b4aa3", "strokeWidth": 1, "point": {"shape": "square", "size": 9, "filled": true, "color": "#2b4aa3"}},
                "encoding": {"x": {"field": "x", "type": "quantitative"}, "y": {"field": "y", "type": "quantitative"}}
              },
              {
                "data": {"name": "aDash"},
                "mark": {"type": "rule", "strokeDash": [7, 4], "strokeWidth": 1.6},
                "encoding": {
                  "x": {"field": "x", "type": "quantitative"},
                  "y": {"field": "y", "type": "quantitative"},
                  "y2": {"datum": 0},
                  "color": {"field": "c", "type": "nominal", "scale": {"domain": ["PL","PLE","STED","split"], "range": ["#bdbdbd","#3550b0","#ec4b47","#8a8a8a"]}, "legend": null}
                }
              },
              {
                "data": {"name": "aArr"},
                "mark": {"type": "rule", "strokeWidth": 2},
                "encoding": {
                  "x": {"field": "x1", "type": "quantitative"}, "x2": {"field": "x2"},
                  "y": {"field": "y", "type": "quantitative"},
                  "color": {"field": "c", "type": "nominal"}
                }
              },
              {
                "data": {"name": "aArr"},
                "mark": {"type": "point", "filled": true, "size": 70, "opacity": 1},
                "encoding": {
                  "x": {"field": "x2", "type": "quantitative"},
                  "y": {"field": "y", "type": "quantitative"},
                  "shape": {"field": "d", "type": "nominal", "scale": {"domain": ["l","r"], "range": ["triangle-left","triangle-right"]}, "legend": null},
                  "color": {"field": "c", "type": "nominal"}
                }
              },
              {
                "data": {"values": [{"x": 0.1968, "y": 1.85, "t": "3.7meV"}]},
                "mark": {"type": "text", "fontSize": 15, "fontWeight": "bold", "color": "#8a8a8a"},
                "encoding": {"x": {"field": "x", "type": "quantitative"}, "y": {"field": "y", "type": "quantitative"}, "text": {"field": "t"}}
              }
            ]
          },
          {
            "data": {"name": "aRed"},
            "mark": {"type": "line", "color": "#e8322c", "strokeWidth": 1, "point": {"shape": "square", "size": 10, "filled": true, "color": "#e8322c"}},
            "encoding": {
              "x": {"field": "x", "type": "quantitative"},
              "y": {"field": "y", "type": "quantitative", "scale": {"domain": [-0.301, 0.947], "nice": false, "zero": false},
                    "axis": {"orient": "right", "values": [-0.3,-0.2,-0.1,0,0.1,0.2,0.3,0.4,0.5,0.6,0.7,0.8,0.9], "tickCount": 100, "labelExpr": "round(datum.value*10) % 2 == 0 ? format(datum.value, '.1f') : ''", "tickSize": {"condition": {"test": "round(datum.value*10) % 2 == 0", "value": 6}, "value": 3}, "labelFontSize": 15, "title": "STED ON:OFF", "titleAngle": 90, "titleFontSize": 21, "titleFontWeight": "bold", "titlePadding": 2}}
            }
          }
        ]
      }
    ]
  },
  {
    "spacing": 14,
    "resolve": {"scale": {"color": "independent"}},
    "vconcat": [
      {
        "spacing": 0,
        "hconcat": [
          {
            "width": 62, "height": 32,
            "data": {"values": [{}]},
            "mark": {"type": "text", "text": "(B)", "fontSize": 19, "fontWeight": "bold", "color": "#111", "align": "center", "baseline": "middle", "dx": -59}
          },
          {
            "bounds": "flush",
            "spacing": 12,
            "vconcat": [
              {
                "width": 395, "height": 52,
                "layer": [
                  {
                    "data": {"name": "bRanges"},
                    "mark": {"type": "rule", "color": "#9a9a9a", "strokeWidth": 1},
                    "encoding": {
                      "x": {"field": "x1", "type": "quantitative", "scale": {"domain": [-24.3, 274], "nice": false, "zero": false}, "axis": null},
                      "x2": {"field": "x2"},
                      "y": {"field": "row", "type": "quantitative", "scale": {"domain": [6, 58], "reverse": true, "nice": false, "zero": false}, "axis": null}
                    }
                  },
                  {
                    "data": {"name": "bRanges"},
                    "mark": {"type": "point", "shape": "M 1 -0.6 L -1 0 L 1 0.6", "filled": false, "size": 40, "color": "#9a9a9a", "strokeWidth": 1, "opacity": 1},
                    "encoding": {"x": {"field": "x1", "type": "quantitative"}, "y": {"field": "row", "type": "quantitative"}}
                  },
                  {
                    "data": {"name": "bRanges"},
                    "mark": {"type": "point", "shape": "M -1 -0.6 L 1 0 L -1 0.6", "filled": false, "size": 40, "color": "#9a9a9a", "strokeWidth": 1, "opacity": 1},
                    "encoding": {"x": {"field": "x2", "type": "quantitative"}, "y": {"field": "row", "type": "quantitative"}}
                  },
                  {
                    "data": {"name": "bRangeLab"},
                    "mark": {"type": "text", "fontSize": 11, "fontStyle": "italic", "color": "#8a8a8a"},
                    "encoding": {"x": {"field": "x", "type": "quantitative"}, "y": {"field": "row", "type": "quantitative"}, "text": {"field": "t"}}
                  }
                ]
              },
              {
                "width": 395, "height": 220,
                "resolve": {"scale": {"y": "independent"}},
                "layer": [
                  {
                    "layer": [
                      {
                        "data": {"name": "bPL"},
                        "mark": {"type": "line", "color": "#3a3a3a", "strokeWidth": 0.9},
                        "encoding": {
                          "x": {"field": "x", "type": "quantitative", "scale": {"domain": [-24.3, 274], "nice": false, "zero": false},
                                "axis": {"values": [-20,-10,0,10,20,30,40,50,60,70,80,90,100,110,120,130,140,150,160,170,180,190,200,210,220,230,240,250,260,270], "tickCount": 100, "labelExpr": "datum.value % 50 == 0 ? format(datum.value, 'd') : ''", "tickSize": {"condition": {"test": "datum.value % 50 == 0", "value": 7}, "value": 4}, "labelFontSize": 14, "title": "ΔEₚₗ , ΔEₚₗₑ (meV)", "titleFontSize": 14, "titleFontWeight": "normal", "titlePadding": 4}},
                          "y": {"field": "y", "type": "quantitative", "scale": {"type": "log", "domain": [0.0113, 1], "nice": false},
                                "axis": {"values": [0.02,0.03,0.04,0.05,0.06,0.07,0.08,0.09,0.1,0.2,0.3,0.4,0.5,0.6,0.7,0.8,0.9,1], "tickCount": 100, "labelExpr": "datum.value >= 0.999 ? '1' : (abs(datum.value - 0.1) < 1e-9 ? '0.1' : (datum.value < 0.1 ? (round(datum.value*100) <= 6 ? '' + round(datum.value*100) : '') : (round(datum.value*10) <= 6 ? '' + round(datum.value*10) : '')))", "labelFontSize": {"condition": {"test": "datum.value >= 0.999 || abs(datum.value - 0.1) < 1e-9", "value": 14}, "value": 10}, "tickSize": {"condition": {"test": "datum.value >= 0.999 || abs(datum.value - 0.1) < 1e-9", "value": 7}, "value": 4}, "title": "Normalized PL Intensity (a.u.)", "titleFontSize": 13, "titleFontWeight": "normal", "titlePadding": 6}}
                        }
                      },
                      {
                        "data": {"values": [{"x1": -6, "x2": -19.8, "y": 0.268}]},
                        "mark": {"type": "rule", "color": "#222", "strokeWidth": 1},
                        "encoding": {"x": {"field": "x1", "type": "quantitative"}, "x2": {"field": "x2"}, "y": {"field": "y", "type": "quantitative"}}
                      },
                      {
                        "data": {"values": [{"x2": -19.8, "y": 0.268}]},
                        "mark": {"type": "point", "shape": "triangle-left", "filled": true, "size": 25, "color": "#222", "opacity": 1},
                        "encoding": {"x": {"field": "x2", "type": "quantitative"}, "y": {"field": "y", "type": "quantitative"}}
                      }
                    ]
                  },
                  {
                    "layer": [
                      {
                        "data": {"name": "bPLE"},
                        "mark": {"type": "line", "color": "#c92a2a", "strokeWidth": 1.2, "point": {"filled": false, "fill": "#fbe0e0", "stroke": "#de7070", "size": 40, "strokeWidth": 1}},
                        "encoding": {
                          "x": {"field": "x", "type": "quantitative"},
                          "y": {"field": "y", "type": "quantitative", "scale": {"domain": [-0.67, 2.01], "nice": false, "zero": false},
                                "axis": {"orient": "right", "values": [-0.6,-0.5,-0.4,-0.3,-0.2,-0.1,0,0.1,0.2,0.3,0.4,0.5,0.6,0.7,0.8,0.9,1.0,1.1,1.2,1.3,1.4,1.5,1.6,1.7,1.8,1.9,2.0], "tickCount": 100, "labelExpr": "abs(datum.value*2 - round(datum.value*2)) < 1e-6 ? format(datum.value, '.1f') : ''", "tickSize": {"condition": {"test": "abs(datum.value*2 - round(datum.value*2)) < 1e-6", "value": 7}, "value": 4}, "labelFontSize": 14, "title": "Normalized PLE Intensity (a.u.)", "titleAngle": 90, "titleFontSize": 13, "titleFontWeight": "normal", "titlePadding": 14}},
                          "detail": {"field": "s", "type": "nominal"}
                        }
                      },
                      {
                        "data": {"values": [{"x1": 246, "x2": 259, "y": 1.21}]},
                        "mark": {"type": "rule", "color": "#c92a2a", "strokeWidth": 1},
                        "encoding": {"x": {"field": "x1", "type": "quantitative"}, "x2": {"field": "x2"}, "y": {"field": "y", "type": "quantitative"}}
                      },
                      {
                        "data": {"values": [{"x2": 259, "y": 1.21}]},
                        "mark": {"type": "point", "shape": "triangle-right", "filled": true, "size": 25, "color": "#c92a2a", "opacity": 1},
                        "encoding": {"x": {"field": "x2", "type": "quantitative"}, "y": {"field": "y", "type": "quantitative"}}
                      }
                    ]
                  },
                  {
                    "data": {"name": "bBands"},
                    "mark": {"type": "rect", "color": "#9edbb0", "opacity": 0.3},
                    "encoding": {"x": {"field": "x1", "type": "quantitative"}, "x2": {"field": "x2"}}
                  }
                ]
              }
            ]
          }
        ]
      },
      {
        "title": {"text": "(C)", "frame": "bounds", "offset": 3},
        "spacing": 0,
        "hconcat": [
          {
            "width": 105, "height": 246,
            "view": {"stroke": "#222", "strokeWidth": 1.5},
            "layer": [
              {
                "data": {"name": "cBands"},
                "mark": {"type": "rect"},
                "encoding": {
                  "x": {"field": "s", "type": "quantitative", "scale": {"domain": [0, 3.5], "reverse": true, "nice": false, "zero": false},
                        "axis": {"values": [1, 2, 3], "labels": false, "tickSize": -6, "domain": false, "title": "Intensity", "titleFontSize": 19, "titleFontWeight": "bold", "titlePadding": 30}},
                  "x2": {"datum": 0},
                  "y": {"field": "lo", "type": "quantitative", "scale": {"domain": [-10.6, 220.3], "nice": false, "zero": false},
                        "axis": {"values": [0, 50, 100, 150, 200], "labelFontSize": 15, "domain": false, "title": "Phonon Energy (meV)", "titleFontSize": 19, "titleFontWeight": "bold", "titlePadding": 4}},
                  "y2": {"field": "hi"},
                  "color": {"field": "kind", "type": "nominal", "scale": {"domain": ["IR","other"], "range": ["#86d993","#b0b0b0"]}, "legend": null}
                }
              },
              {
                "data": {"name": "cInt"},
                "mark": {"type": "line", "color": "#e01818", "strokeWidth": 1.8, "interpolate": "catmull-rom"},
                "encoding": {"x": {"field": "I", "type": "quantitative"}, "y": {"field": "E", "type": "quantitative"}, "order": {"field": "E", "type": "quantitative"}}
              },
              {
                "data": {"name": "cNotes"},
                "mark": {"type": "text", "fontSize": 13, "color": "#333", "align": "right", "baseline": "middle"},
                "encoding": {"x": {"field": "I", "type": "quantitative"}, "y": {"field": "E", "type": "quantitative"}, "text": {"field": "t"}}
              }
            ]
          },
          {
            "width": 619, "height": 246,
            "view": {"stroke": "#222", "strokeWidth": 1.5},
            "layer": [
              {
                "data": {"name": "cBands"},
                "mark": {"type": "rect"},
                "encoding": {
                  "y": {"field": "lo", "type": "quantitative", "scale": {"domain": [-10.6, 220.3], "nice": false, "zero": false},
                        "axis": {"values": [0, 50, 100, 150, 200], "labels": false, "tickSize": -6, "domain": false, "title": null}},
                  "y2": {"field": "hi"},
                  "color": {"field": "kind", "type": "nominal", "scale": {"domain": ["IR","other"], "range": ["#86d993","#b0b0b0"]}, "legend": null}
                }
              },
              {
                "data": {"name": "cDisp"},
                "mark": {"type": "line", "color": "#1414c8", "strokeWidth": 1.8, "interpolate": "catmull-rom", "clip": true},
                "encoding": {
                  "x": {"field": "k", "type": "quantitative", "scale": {"domain": [0, 8.718], "nice": false, "zero": false},
                        "axis": {"values": [0, 1, 4.056, 5.606, 8.69], "labelExpr": "datum.value == 0 ? 'A' : (datum.value == 1 ? 'Γ' : (datum.value < 5 ? 'M' : (datum.value < 6 ? 'K' : 'Γ')))", "labelFontStyle": {"condition": {"test": "datum.value == 1 || datum.value > 8", "value": "normal"}, "value": "italic"}, "tickOpacity": {"condition": {"test": "datum.value > 3 && datum.value < 6", "value": 1}, "value": 0}, "tickSize": -6, "labelPadding": 12, "labelFontSize": 14, "domain": false, "title": "Phonon Energy (meV)", "titleFontSize": 19, "titleFontWeight": "bold", "titlePadding": 10}},
                  "y": {"field": "E", "type": "quantitative"},
                  "detail": {"field": "b", "type": "nominal"}
                }
              },
              {
                "data": {"name": "cSym"},
                "mark": {"type": "text", "fontSize": 14, "fontStyle": "italic", "color": "#222", "align": "left", "baseline": "middle"},
                "encoding": {"x": {"field": "k", "type": "quantitative"}, "y": {"field": "E", "type": "quantitative"}, "text": {"field": "t"}}
              },
              {
                "data": {"name": "cSub"},
                "mark": {"type": "text", "fontSize": 10, "fontStyle": "italic", "color": "#222", "align": "left", "baseline": "middle", "dy": 5},
                "encoding": {"x": {"field": "k", "type": "quantitative"}, "y": {"field": "E", "type": "quantitative"}, "text": {"field": "t"}}
              },
              {
                "data": {"name": "cPlain"},
                "mark": {"type": "text", "fontSize": 14, "color": "#222", "align": "left", "baseline": "middle"},
                "encoding": {"x": {"field": "k", "type": "quantitative"}, "y": {"field": "E", "type": "quantitative"}, "text": {"field": "t"}}
              }
            ]
          }
        ]
      }
    ]
  }
],
"columns": 2,
"align": "none",
"spacing": 23
}
